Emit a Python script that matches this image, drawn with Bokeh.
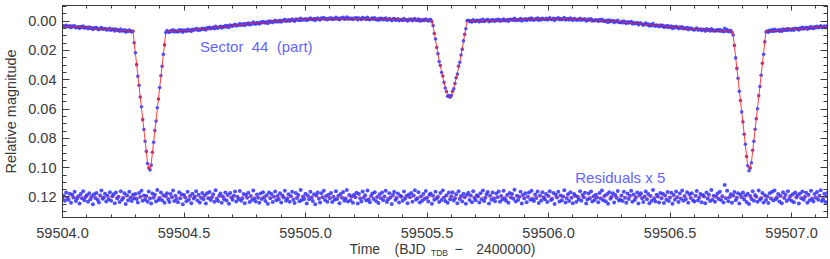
import numpy as np
from bokeh.plotting import figure
from bokeh.models import (Range1d, LinearAxis, SingleIntervalTicker, PrintfTickFormatter,
                          Label, CustomLabelingPolicy, ColumnDataSource)
from bokeh.core.properties import value
from bokeh.embed import file_html
from bokeh.resources import INLINE

# ---------------- data ----------------
T_START = 59504.0          # BJD_TDB - 2400000 of first sample
CADENCE = 0.005            # days between samples

X_TICK_FMT = "%.1f"
Y_TICK_FMT = "%.2f"
RESID_OFFSET = 0.12        # residuals x 5 are shown shifted to this magnitude

# model light curve, relative magnitude in units of 1e-4 mag
base_a = [32, 33, 33, 34, 34, 35, 36, 36, 37, 37,
          38, 39, 39, 40, 40, 41, 42, 42, 43, 43,
          44, 45, 45, 46, 46, 47, 48, 48, 49, 50,
          50, 51, 52, 52, 53, 54, 54, 55, 56, 56,
          57, 58, 58, 59, 60, 60, 61, 62, 62, 63,
          64, 64, 65, 66, 66, 67, 67, 68]
eclipse_1 = [71, 145, 220, 294, 369, 443, 518, 592, 667, 741, 816, 890, 965, 1010,
             1013, 974, 899, 825, 750, 676, 601, 527, 452, 378, 303, 229, 154, 79]
base_b = [70, 70, 69, 69, 69, 68, 68, 67, 67, 66,
          66, 66, 65, 65, 64, 64, 63, 63, 62, 62,
          61, 60, 59, 58, 58, 57, 56, 55, 54, 54,
          53, 52, 51, 50, 49, 49, 48, 47, 46, 45,
          44, 43, 42, 41, 40, 39, 38, 37, 36, 35,
          34, 33, 32, 31, 30, 29, 28, 27, 26, 25,
          24, 23, 22, 22, 21, 20, 19, 18, 18, 17,
          16, 15, 14, 14, 13, 12, 11, 10, 10, 9,
          8, 7, 7, 6, 5, 5, 4, 3, 3, 2,
          1, 0, 0, -1, -2, -2, -3, -4, -4, -5,
          -6, -6, -7, -7, -8, -8, -9, -9, -10, -10,
          -11, -11, -12, -12, -12, -13, -13, -14, -14, -14,
          -15, -15, -15, -15, -16, -16, -16, -16, -17, -17,
          -17, -17, -17, -17, -17, -18, -18, -18, -18, -18,
          -18, -18, -18, -18, -19, -19, -19, -19, -19, -19,
          -19, -19, -19, -19, -19, -18, -18, -18, -18, -18,
          -18, -18, -18, -17, -17, -17, -17, -17, -16, -16,
          -16, -16, -16, -15, -15, -15, -14, -14, -14, -13,
          -13, -13, -13, -12, -12, -12, -12, -11, -11, -11,
          -11, -11, -10, -10, -10, -10, -10, -9, -9, -9,
          -9, -9, -9, -9, -9, -8, -8, -8, -8, -8,
          -8, -8, -7, -7, -7, -7, -7, -6, -6]
eclipse_2 = [32, 81, 129, 177, 223, 269, 308, 346, 383, 417, 451, 482, 504, 514,
             516, 508, 486, 457, 424, 390, 353, 315, 278, 232, 186, 139, 90, 42]
base_c = [0, 0, -1, -1, -1, -2, -2, -2, -3, -3,
          -3, -3, -3, -4, -4, -4, -4, -4, -5, -5,
          -5, -5, -5, -6, -6, -6, -6, -6, -7, -7,
          -7, -7, -8, -8, -8, -8, -9, -9, -9, -10,
          -10, -10, -10, -10, -11, -11, -11, -11, -12, -12,
          -12, -12, -12, -12, -13, -13, -13, -13, -14, -14,
          -14, -14, -14, -14, -15, -15, -15, -15, -15, -15,
          -15, -15, -15, -15, -16, -16, -16, -15, -15, -15,
          -15, -15, -15, -14, -14, -14, -14, -14, -13, -13,
          -13, -13, -12, -12, -11, -11, -11, -10, -10, -9,
          -9, -9, -8, -8, -7, -7, -7, -6, -6, -5,
          -5, -4, -4, -3, -3, -2, -1, -1, 0, 0,
          1, 2, 2, 3, 3, 4, 5, 5, 6, 6,
          7, 8, 9, 9, 10, 11, 12, 13, 13, 14,
          15, 16, 17, 18, 19, 20, 20, 21, 22, 23,
          24, 25, 26, 26, 27, 28, 29, 30, 30, 31,
          32, 33, 34, 35, 36, 37, 37, 38, 39, 40,
          41, 42, 43, 43, 44, 45, 46, 47, 47, 48,
          49, 50, 51, 51, 52, 53, 54, 54, 55, 55,
          56, 56, 57, 57, 58, 58, 59, 59, 60, 60,
          61, 61, 62, 62, 62, 63, 63, 64, 64, 64,
          65, 65, 65, 66, 66, 66, 67, 67, 68]
eclipse_3 = [97, 172, 246, 321, 395, 470, 544, 619, 693, 768, 842, 917, 991, 1011,
             1003, 964, 889, 815, 740, 666, 591, 517, 442, 368, 293, 219, 144, 70]
base_d = [68, 67, 67, 66, 66, 65, 64, 64, 63, 63,
          62, 61, 61, 60, 60, 59, 58, 58, 57, 56,
          56, 55, 55, 54, 53, 53, 52, 51, 51, 50,
          49, 49, 48, 47, 47, 46, 45, 45, 44, 43,
          43, 42, 41, 41, 40, 39, 38, 38, 37, 36,
          36, 35]

# residuals (O - C) x 5, units of 1e-4 mag
resid_x5 = [
    12, -8, 25, -30, 5, 18, -22, 40, -15, 3, -35, 28, 10, -5, 45, -20, 8, -40, 22, 0,
    -12, 33, -25, 15, -3, 50, -18, 7, -28, 20, 38, -10, -45, 12, 4, -22, 30, -8, 16, -33,
    25, -5, -18, 42, -30, 10, -2, 35, -40, 18, 6, -25, 48, -12, 22, -35, 3, 28, -15, 9,
    -20, 14, 38, -28, 0, -42, 26, -10, 17, -6, 32, -38, 11, 44, -24, 5, -16, 30, -48, 20,
    7, -30, 22, -12, 40, -5, -26, 15, 34, -20, 2, -44, 27, -9, 13, 36, -32, 8, -18, 50,
    -14, 3, 29, -36, 19, -7, 42, -22, 10, -3, -40, 24, -15, 37, 6, -28, 16, -11, 45, -25,
    9, -34, 21, 1, -19, 33, -46, 12, 27, -8, -23, 39, -4, 15, -31, 24, -13, 47, -27, 4,
    18, -9, -37, 30, -2, 14, -41, 26, 8, -21, 43, -16, 5, -29, 35, -6, 20, -44, 11, 31,
    -17, 6, 40, -24, 13, -33, 2, 28, -12, 46, -30, 9, -20, 34, -1, -38, 23, -7, 16, -26,
    37, -11, 4, -42, 25, 10, -19, 32, -5, -35, 18, 41, -28, 7, -14, 29, -47, 21, -3, 13,
    -22, 44, -8, 16, -36, 3, 27, -18, 50, -10, -31, 12, 38, -25, 1, -43, 20, -6, 33, -15,
    8, -27, 35, -2, 19, -40, 14, -9, 42, -20, 5, -34, 26, 11, -48, 30, -13, 22, -4, 39,
    -16, 2, -29, 45, -21, 10, 31, -37, 6, -12, 24, -45, 17, 36, -7, -24, 13, -33, 28, 0,
    41, -19, 9, -30, 22, -4, -42, 34, 15, -26, 3, 48, -14, -35, 20, 7, -23, 38, -9, -1,
    26, -38, 12, -6, 43, -17, 1, -28, 32, -11, -46, 19, 8, -32, 37, -3, 25, -20, 14, -41,
    5, 30, -15, -24, 46, -8, 18, -36, 11, -2, 35, -27, 21, -44, 4, 28, -12, 40, -30, 16,
    -5, -33, 24, 9, -18, 42, -40, 13, -7, 31, -22, 2, 47, -16, -29, 20, -10, 36, -39, 7,
    23, -12, -3, 38, -26, 15, -45, 27, 6, -19, -34, 44, -8, 18, -31, 10, 29, -23, 1, -37,
    33, -6, 17, -42, 8, 25, -14, 39, -28, 3, -20, 12, -49, 30, -9, 21, -2, -35, 45, -13,
    11, -25, 36, -1, -30, 19, -43, 14, 28, -17, 7, -38, 41, -10, 24, -32, 2, 16, -21, 34,
    -7, -40, 20, 13, -27, 48, -15, 4, -36, 30, -11, 23, -4, -46, 37, 9, -18, 27, -33, 6,
    42, -21, -9, 32, -2, 15, -39, 26, -13, 1, -29, 44, 17, -24, 8, -37, 31, -5, 21, -16,
    3, 36, -28, 10, -44, 22, -6, 29, -19, 47, -33, 12, -1, -26, 38, -14, 5, -41, 24, 18,
    -11, 27, -35, 6, 40, -23, 14, -8, -42, 33, -17, 20, 2, -30, 45, -12, -25, 9, 35, -4,
    -38, 16, -20, 43, -7, 25, -48, 11, 31, -15, -3, 37, -27, 8, -22, 41, -10, 19, -34, 28,
    4, -29, 46, -13, 18, -37, 1, 34, -24, 12, -45, 26, -6, 15, -32, 39, -18, 7, -26, 22,
    30, -9, -41, 24, 5, -20, 36, -14, -3, 43, -31, 10, -16, 27, -47, 18, -8, 33, -1, -23,
    14, -36, 21, -5, 38, -82, 9, -43, 29, 2, -18, 40, -11, -34, 23, 6, -25, 45, -15, 1,
    -30, 17, -10, 35, -22, 48, -6, 13, -39, 26, -14, -2, 32, -44, 19, 8, -28, 37, -12, 20,
    -3, 41, -26, 11, -35, 24, -45, 16, 3, -21, 30, -9, 42, -33, 7, -16, 27, -40, 14, -7,
    25, -18, 36, -31, 4, -12, 44, -24, 9, -38, 18, -1, -29, 39, -15, 22, -43, 12, 31, -20,
    6, -34, 19, -8, -46, 27, 13, -22, 35, -5, -30, 16]

annot_sector = "Sector\u00a0 44\u00a0 (part)"
annot_resid = "Residuals x 5"
# x-axis title pieces (main text + subscript), their start times and heights
x_title_parts = ["Time", "(BJD", "TDB", "\u2212", "2400000)"]
x_title_start = [59505.194, 59505.378, 59505.527, 59505.623, 59505.712]
x_title_level = [0.52, 0.52, 0.29, 0.52, 0.52]
x_title_size = ["14px", "14px", "8.5px", "14.5px", "14px"]

# ---------------- derived series ----------------
model_all = np.array(base_a + eclipse_1 + base_b + eclipse_2 + base_c + eclipse_3 + base_d) * 1e-4
res_all = np.array(resid_x5) * 1e-4
n = min(len(model_all), len(res_all))
model = model_all[:n]
res = res_all[:n]
t = T_START + CADENCE * np.arange(n)
obs = model + res / 5.0
res_plot = RESID_OFFSET + res

# ---------------- styling ----------------
FONT = "Liberation Sans"
TXT = "#3a3a3a"
BLUE = "#3030ff"
RED = "#ff2a2a"

xr = Range1d(59504.0, 59507.148)
p = figure(width=830, height=244, output_backend="svg", toolbar_location=None,
           x_range=xr, y_range=Range1d(0.134, -0.0107),
           min_border_left=57, min_border_right=3, min_border_top=5, min_border_bottom=27,
           styles={"position": "absolute", "left": "0px", "top": "0px"})
p.grid.visible = False
p.outline_line_color = TXT
p.background_fill_color = "white"
p.border_fill_color = "white"

xt = SingleIntervalTicker(interval=0.5, num_minor_ticks=5)
yt = SingleIntervalTicker(interval=0.02, num_minor_ticks=4)

no_labels = CustomLabelingPolicy(code="""
for (const i of indices) { indices.unset(i) }
return indices
""")


def style_axis(ax, tick_major, tick_minor, labels=True):
    ax.axis_line_color = TXT
    ax.major_tick_line_color = TXT
    ax.minor_tick_line_color = TXT
    ax.major_tick_in = tick_major
    ax.major_tick_out = 0
    ax.minor_tick_in = tick_minor
    ax.minor_tick_out = 0
    ax.major_label_text_font = FONT
    ax.major_label_text_color = TXT
    if labels:
        ax.major_label_text_font_size = "14.5px"
    else:
        ax.major_label_policy = no_labels
        ax.major_label_text_font_size = "0px"
        ax.major_label_standoff = 0


xa = p.xaxis[0]
xa.ticker = xt
xa.formatter = PrintfTickFormatter(format=X_TICK_FMT)
style_axis(xa, 5, 3)
xa.major_label_standoff = 10

ya = p.yaxis[0]
ya.ticker = yt
ya.formatter = PrintfTickFormatter(format=Y_TICK_FMT)
style_axis(ya, 7, 4)
ya.major_label_standoff = 6
ya.axis_label = "Relative magnitude"
ya.axis_label_text_font = FONT
ya.axis_label_text_font_size = "14.5px"
ya.axis_label_text_font_style = "normal"
ya.axis_label_text_color = TXT
ya.axis_label_standoff = 6

top = LinearAxis(ticker=xt)
style_axis(top, 5, 3, labels=False)
p.add_layout(top, "above")
right = LinearAxis(ticker=yt)
style_axis(right, 7, 4, labels=False)
p.add_layout(right, "right")

# light curve
p.scatter(t, obs, size=3.6, fill_color=BLUE, line_color=None, fill_alpha=0.85)
p.line(t, model, line_color=RED, line_width=1, line_alpha=0.9)
# residuals
p.scatter(t, res_plot, size=4.0, fill_color=BLUE, line_color=None, fill_alpha=0.85)
p.line([T_START, T_START + CADENCE * n], [RESID_OFFSET, RESID_OFFSET],
       line_color=RED, line_width=1, line_alpha=0.45)

ann_col = "#6464ff"
p.add_layout(Label(x=59504.566, y=0.0171, text=annot_sector, text_font=FONT,
                   text_font_size="15px", text_color=ann_col, text_baseline="middle"))
p.add_layout(Label(x=59506.11, y=0.1069, text=annot_resid, text_font=FONT,
                   text_font_size="15px", text_color=ann_col, text_baseline="middle"))

# transparent strip under the plot carrying the x-axis title (shares the time axis)
q = figure(width=830, height=21, output_backend="svg", toolbar_location=None,
           x_range=xr, y_range=Range1d(0, 1),
           min_border_left=57, min_border_right=3, min_border_top=0, min_border_bottom=0,
           x_axis_location=None, y_axis_location=None,
           styles={"position": "absolute", "left": "0px", "top": "238px"})
q.grid.visible = False
q.outline_line_color = None
q.background_fill_color = None
q.border_fill_color = None
src = ColumnDataSource(dict(x=x_title_start, y=x_title_level, text=x_title_parts,
                            size=x_title_size))
q.text(x="x", y="y", text="text", source=src, text_font_size="size",
       text_font=value(FONT), text_color=TXT, text_baseline="middle", text_align="left")

open("out.html", "w").write(file_html([p, q], INLINE))
